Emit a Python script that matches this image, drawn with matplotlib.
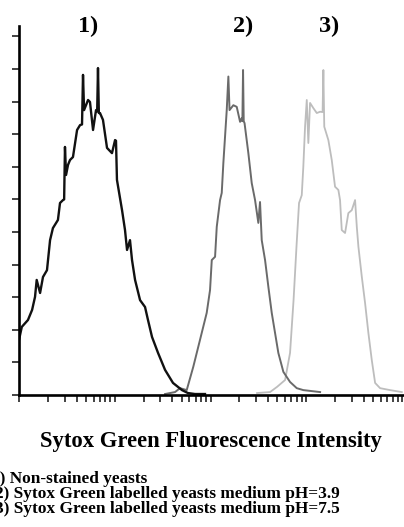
import matplotlib
matplotlib.use("Agg")
import matplotlib.pyplot as plt
from matplotlib.ticker import LogLocator, NullFormatter, MultipleLocator

# ---- data (fluorescence intensity, cell count in % of max) ----
int1 = [1.00, 1.07, 1.24, 1.37, 1.47, 1.53, 1.66, 1.78, 1.96, 2.11, 2.26, 2.55, 2.68, 2.88,
        2.96, 3.02, 3.10, 3.25, 3.41, 3.66, 4.04, 4.34, 4.55, 4.66, 4.78, 5.26, 5.51, 5.93,
        6.37, 6.55, 6.68, 6.82, 7.01, 7.53, 8.30, 9.35, 10.07, 10.30, 10.54, 11.91, 12.79,
        13.43, 14.42, 15.14, 16.29, 18.37, 20.70, 22.23, 24.49, 28.31, 33.50, 40.55, 50.35,
        58.08, 68.87, 87.50]
cnt1 = [16.9, 20.9, 23.0, 26.1, 30.1, 35.3, 31.3, 36.2, 38.3, 47.5, 51.2, 53.7, 58.9, 59.8,
        60.0, 76.1, 67.5, 70.6, 72.1, 73.0, 81.3, 82.8, 83.0, 98.2, 87.4, 90.5, 89.9, 81.3,
        87.4, 87.0, 100.3, 86.5, 86.5, 84.4, 75.8, 74.2, 78.2, 78.0, 66.0, 56.7, 50.6,
        44.5, 47.5, 41.4, 35.3, 29.1, 27.0, 23.0, 17.8, 12.9, 7.7, 3.7, 1.5,
        0.6, 0.3, 0.3]

int2 = [33.5, 42.6, 48.0, 56.4, 66.1, 77.6, 91.2, 98.8, 103.0, 111.5, 116.1, 125.7, 130.9,
        136.1, 141.6, 147.6, 153.5, 157.9, 173.0, 187.7, 203.4, 211.8, 215.0, 218.5, 222.0,
        226.5, 248.2, 269.2, 291.6, 315.5, 328.6, 342.4, 370.9, 401.5, 435.5, 471.8, 510.5,
        575.9, 676.2, 794.5, 930.4, 1393]
cnt2 = [0.3, 0.9, 2.1, 1.5, 8.7, 16.9, 25.2, 32.2, 41.4, 42.4, 51.6, 59.8, 62.0,
        71.2, 79.1, 87.4, 97.7, 87.4, 88.9, 88.4, 83.8, 84.9, 84.0, 99.7, 84.0,
        83.4, 74.2, 65.0, 59.8, 52.8, 59.2, 47.5, 41.4, 33.2, 25.2, 19.0, 12.9,
        7.1, 4.0, 2.1, 1.5, 0.9]

int3 = [306.0, 418.1, 495.2, 600.3, 676.2, 735.8, 791.2, 839.5, 896.2, 930.4, 970.1, 1011,
        1050, 1094, 1185, 1286, 1393, 1479, 1507, 1540, 1699, 1843, 1995, 2161, 2250, 2345,
        2539, 2748, 2983, 3230, 3367, 3499, 3796, 4108, 4449, 4826, 5229, 5892, 7492, 9930]
cnt3 = [0.6, 0.9, 2.5, 4.6, 12.9, 29.1, 46.0, 58.9, 61.3, 70.0, 82.3, 90.5,
        77.3, 89.6, 88.0, 86.5, 86.9, 86.8, 99.7, 82.3, 78.2, 72.1, 63.9, 62.9, 59.8, 50.6,
        49.7, 55.8, 56.7, 59.8, 51.6, 45.5, 36.3, 28.2, 19.0, 10.7, 3.7, 2.1, 1.5, 0.9]

peak_labels = ["1)", "2)", "3)"]
peak_label_x = [88, 243, 329]  # pixel centres
xlabel = "Sytox Green Fluorescence Intensity"
legend_lines = ["1) Non-stained yeasts",
                "2) Sytox Green labelled yeasts medium pH=3.9",
                "3) Sytox Green labelled yeasts medium pH=7.5"]
legend_x = [-9, -5, -5]

W, H = 404, 527
fig = plt.figure(figsize=(W / 100, H / 100), dpi=100)
ax = fig.add_axes([19 / W, (H - 395) / H, (W - 19) / W, (395 - 26) / H])

ax.plot(int3, cnt3, color="#bdbdbd", lw=1.3)
ax.plot(int2, cnt2, color="#6a6a6a", lw=1.4)
ax.plot(int1, cnt1, color="#111111", lw=1.7)

ax.set_xscale("log")
ax.set_xlim(1, 10 ** 4.02)
ax.set_ylim(0, 113.2)
ax.yaxis.set_major_locator(MultipleLocator(10))
ax.xaxis.set_major_locator(LogLocator(base=10, numticks=10))
ax.xaxis.set_minor_locator(LogLocator(base=10, subs=range(2, 10), numticks=50))
ax.xaxis.set_major_formatter(NullFormatter())
ax.xaxis.set_minor_formatter(NullFormatter())
ax.yaxis.set_major_formatter(NullFormatter())
ax.set_ylim(0, 113.2)

for s in ["top", "right"]:
    ax.spines[s].set_visible(False)
for s in ["left", "bottom"]:
    ax.spines[s].set_linewidth(1.9)
    ax.spines[s].set_color("#000000")
ax.tick_params(axis="both", which="both", direction="out", length=5.2, width=1.2,
               color="#222222")
ax.tick_params(axis="y", which="both", right=False)
ax.tick_params(axis="x", which="both", top=False)

serif = ["Liberation Serif", "DejaVu Serif"]
for lab, px in zip(peak_labels, peak_label_x):
    fig.text(px / W, 1 - 26 / H, lab, ha="center", va="center", fontsize=17.5,
             fontweight="bold", family=serif)

fig.text(211 / W, 1 - 441 / H, xlabel, ha="center", va="center", fontsize=16.3,
         fontweight="bold", family=serif)
for i, line in enumerate(legend_lines):
    fig.text(legend_x[i] / W, 1 - (479 + 15 * i) / H, line, ha="left", va="center",
             fontsize=12.4, fontweight="bold", family=serif)

fig.savefig("out.png", dpi=100)
